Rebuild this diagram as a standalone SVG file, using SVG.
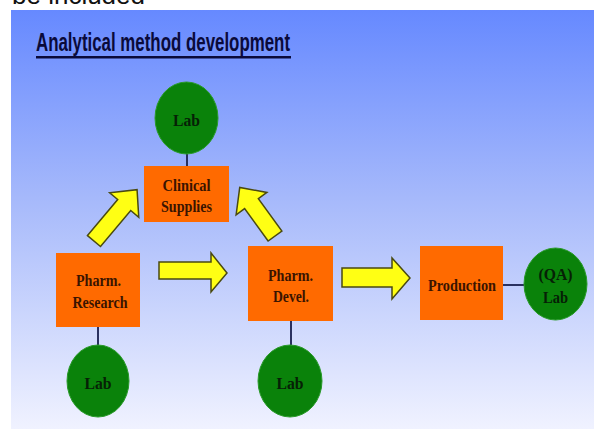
<svg xmlns="http://www.w3.org/2000/svg" width="594" height="429" viewBox="0 0 594 429">
<defs>
<linearGradient id="bg" x1="0" y1="0" x2="0" y2="1">
<stop offset="0" stop-color="#6689ff"/>
<stop offset="0.45" stop-color="#a6b9fb"/>
<stop offset="1" stop-color="#f0f2ff"/>
</linearGradient>
<style>
.box{fill:#ff6a00;}
.lab{fill:#0a820a;stroke:#2a9a2a;stroke-width:1;}
.t{font-family:"Liberation Serif",serif;font-weight:bold;font-size:17px;text-anchor:middle;}
.tb{fill:#3a1400;}
.tg{fill:#062006;}
.arr{fill:#ffff14;stroke:#4a4a10;stroke-width:1.5;stroke-linejoin:miter;}
.con{stroke:#2a3160;stroke-width:2;fill:none;}
</style>
</defs>
<rect x="0" y="0" width="594" height="429" fill="#ffffff"/>
<text x="12" y="4" font-family="Liberation Sans, sans-serif" font-size="26" fill="#111">be included</text>
<rect x="11" y="10" width="583" height="419" fill="url(#bg)"/>
<g id="title">
<text x="36" y="51" font-family="Liberation Sans, sans-serif" font-weight="bold" font-size="25" fill="#0a0a3a" textLength="254" lengthAdjust="spacingAndGlyphs">Analytical method development</text>
<rect x="36" y="56" width="255" height="2.5" fill="#0a0a3a"/>
</g>
<g id="connectors">
<line class="con" x1="187" y1="154" x2="187" y2="166"/>
<line class="con" x1="98" y1="327" x2="98" y2="345"/>
<line class="con" x1="291" y1="321" x2="291" y2="345"/>
<line class="con" x1="503" y1="285" x2="524" y2="285"/>
<path id="arrow-research-supplies" class="arr" transform="translate(94,241) rotate(-50)" d="M0,-8.5 L47,-8.5 L47,-19 L67,0 L47,19 L47,8.5 L0,8.5 Z"/>
<path id="arrow-devel-supplies" class="arr" transform="translate(275,236) rotate(-126)" d="M0,-8.5 L40,-8.5 L40,-19 L60,0 L40,19 L40,8.5 L0,8.5 Z"/>
<path id="arrow-research-devel" class="arr" d="M159,262 L211,262 L211,253 L227,273 L211,292 L211,279 L159,279 Z"/>
<path id="arrow-devel-production" class="arr" d="M342,268 L392,268 L392,258 L410,278 L392,299 L392,287 L342,287 Z"/>
</g>
<g id="lab-top">
<ellipse class="lab" cx="186.5" cy="118" rx="31.5" ry="36"/>
<text class="t tg" x="186.5" y="126" textLength="27" lengthAdjust="spacingAndGlyphs">Lab</text>
</g>
<g id="clinical-supplies">
<rect class="box" x="144" y="166" width="85" height="56"/>
<text class="t tb" x="186.5" y="191" textLength="48" lengthAdjust="spacingAndGlyphs">Clinical</text>
<text class="t tb" x="186.5" y="212" textLength="51" lengthAdjust="spacingAndGlyphs">Supplies</text>
</g>
<g id="pharm-research">
<rect class="box" x="56" y="253" width="84" height="74"/>
<text class="t tb" x="98.5" y="286" textLength="45" lengthAdjust="spacingAndGlyphs">Pharm.</text>
<text class="t tb" x="100" y="308" textLength="55" lengthAdjust="spacingAndGlyphs">Research</text>
</g>
<g id="lab-research">
<ellipse class="lab" cx="98" cy="381" rx="31" ry="36"/>
<text class="t tg" x="98" y="389" textLength="27" lengthAdjust="spacingAndGlyphs">Lab</text>
</g>
<g id="pharm-devel">
<rect class="box" x="248" y="246" width="85" height="75"/>
<text class="t tb" x="290.5" y="281" textLength="45" lengthAdjust="spacingAndGlyphs">Pharm.</text>
<text class="t tb" x="291" y="302" textLength="36" lengthAdjust="spacingAndGlyphs">Devel.</text>
</g>
<g id="lab-devel">
<ellipse class="lab" cx="290" cy="381" rx="32" ry="36"/>
<text class="t tg" x="290" y="389" textLength="27" lengthAdjust="spacingAndGlyphs">Lab</text>
</g>
<g id="production">
<rect class="box" x="420" y="246" width="83" height="74"/>
<text class="t tb" x="462" y="291" textLength="68" lengthAdjust="spacingAndGlyphs">Production</text>
</g>
<g id="qa-lab">
<ellipse class="lab" cx="555.5" cy="284" rx="31.5" ry="36"/>
<text class="t tg" x="555.5" y="280" textLength="34" lengthAdjust="spacingAndGlyphs">(QA)</text>
<text class="t tg" x="555.5" y="303" textLength="25" lengthAdjust="spacingAndGlyphs">Lab</text>
</g>
</svg>
